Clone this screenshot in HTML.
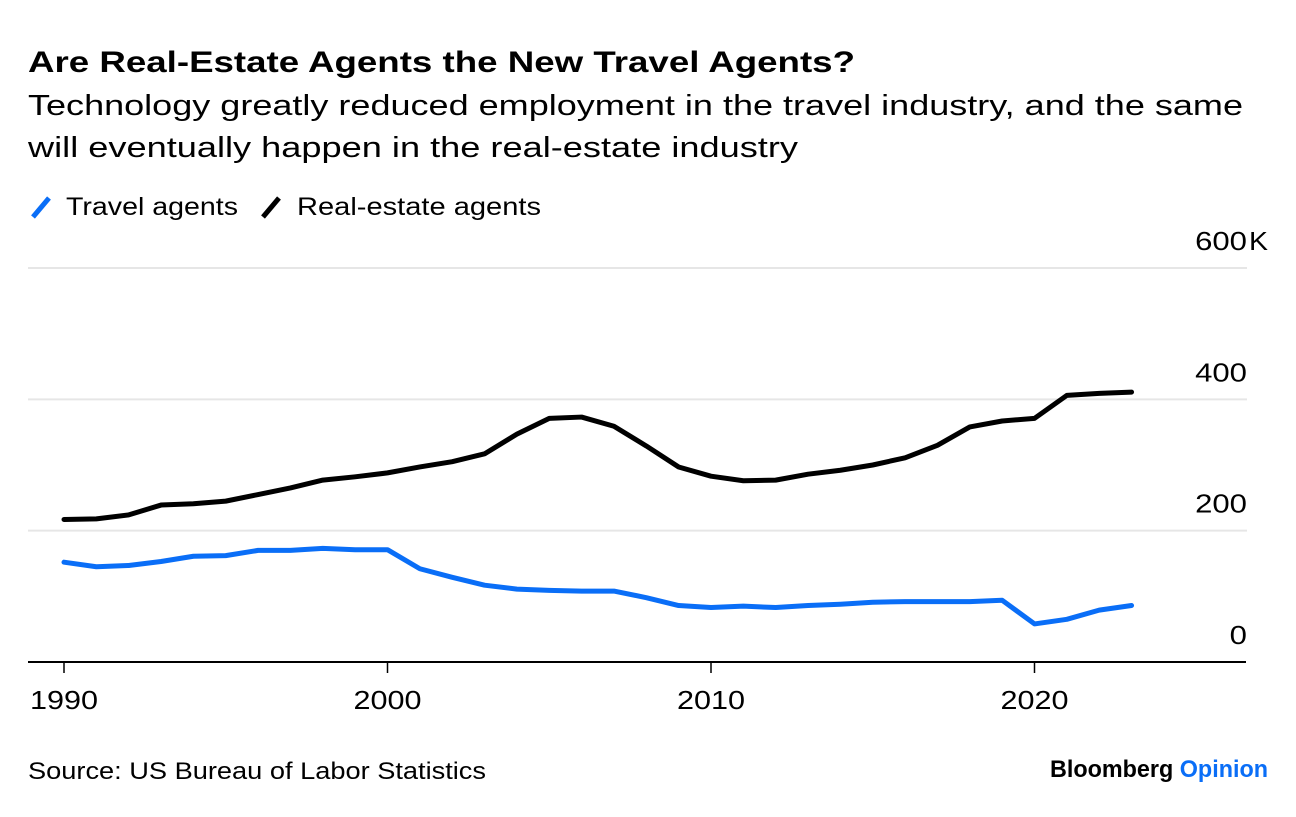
<!DOCTYPE html>
<html><head><meta charset="utf-8"><style>
body{margin:0;background:#fff;font-family:"Liberation Sans",sans-serif;}
svg text{font-family:"Liberation Sans",sans-serif;}
</style></head><body>
<svg width="1296" height="812" viewBox="0 0 1296 812">
<text x="28" y="72" font-size="30" font-weight="bold" fill="#000" textLength="827" lengthAdjust="spacingAndGlyphs">Are Real-Estate Agents the New Travel Agents?</text>
<text x="28" y="115" font-size="29" fill="#000" textLength="1215" lengthAdjust="spacingAndGlyphs">Technology greatly reduced employment in the travel industry, and the same</text>
<text x="28" y="157" font-size="29" fill="#000" textLength="770" lengthAdjust="spacingAndGlyphs">will eventually happen in the real-estate industry</text>
<g><line x1="33" y1="217" x2="49" y2="198" stroke="#0a6ef7" stroke-width="5"/><text x="66" y="215" font-size="25" textLength="172" lengthAdjust="spacingAndGlyphs">Travel agents</text></g>
<g><line x1="263" y1="217" x2="279" y2="198" stroke="#000" stroke-width="5"/><text x="297" y="215" font-size="25" textLength="244" lengthAdjust="spacingAndGlyphs">Real-estate agents</text></g>
<g id="grid"></g><g id="xaxis"></g><g id="series"></g>
<text x="28" y="779" font-size="24" textLength="458" lengthAdjust="spacingAndGlyphs">Source: US Bureau of Labor Statistics</text>
<text x="1050" y="777" font-size="24" font-weight="bold" textLength="218" lengthAdjust="spacingAndGlyphs"><tspan fill="#000">Bloomberg </tspan><tspan fill="#0a6ef7">Opinion</tspan></text>
</svg>
<script>
const years=[];for(let y=1990;y<=2023;y++)years.push(y);
const realEstate=[217,218,224,239,241,245,255,265,277,282,288,297,305,317,347,371,373,359,329,297,283,276,277,286,292,300,311,330,358,367,371,406,409,411];
const travel=[152,145,147,153,161,162,170,170,173,171,171,142,129,117,111,109,108,108,98,86,83,85,83,86,88,91,92,92,92,94,58,65,79,86];
const yTicks=[0,200,400,600];
const yTickLabels=["0","200","400","600"];
const xTicks=[1990,2000,2010,2020];
const NS="http://www.w3.org/2000/svg";
const X=v=>64+(v-1990)*32.35;
const Y=v=>662-v*(394/600);
function mk(tag,attrs,parent){const e=document.createElementNS(NS,tag);for(const k in attrs)e.setAttribute(k,attrs[k]);parent.appendChild(e);return e;}
const grid=document.getElementById('grid'),xa=document.getElementById('xaxis'),se=document.getElementById('series');
yTicks.forEach((t,i)=>{
 if(t>0){const l=mk('line',{x1:28,x2:1247,y1:Y(t),y2:Y(t),stroke:'#e6e6e6','stroke-width':2},grid);
 
 }
 const lbl=yTickLabels[i];
 const w=lbl.length*17.3;
 const tx=mk('text',{x:1247-w,y:Y(t)-18,'font-size':26,textLength:w,lengthAdjust:'spacingAndGlyphs'},grid);tx.textContent=lbl;
 
 
 if(i===yTicks.length-1){const k=mk('text',{x:1249,y:Y(t)-18,'font-size':26,textLength:19,lengthAdjust:'spacingAndGlyphs'},grid);k.textContent='K';
 
 }
});
const ax=mk('line',{x1:28,x2:1246,y1:662,y2:662,stroke:'#000','stroke-width':2},xa);


xTicks.forEach(t=>{
 const tk=mk('line',{x1:X(t),x2:X(t),y1:662,y2:673,stroke:'#000','stroke-width':1.5},xa);
 
 
 const tx=mk('text',{x:X(t)-34,y:709,'font-size':26,textLength:68,lengthAdjust:'spacingAndGlyphs'},xa);tx.textContent=t;
 
 
});
function line(vals,color,name){
 const p=mk('polyline',{points:vals.map((v,i)=>X(years[i])+','+Y(v)).join(' '),fill:'none',stroke:color,'stroke-width':5,'stroke-linejoin':'round','stroke-linecap':'round'},se);
 
 
}
line(realEstate,'#000','real-estate-line');
line(travel,'#0a6ef7','travel-line');
</script>
</body></html>
